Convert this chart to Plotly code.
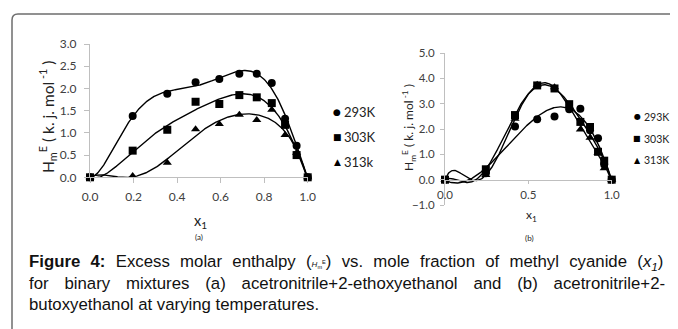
import numpy as np
import plotly.graph_objects as go

# ---------------- data ----------------
xa = [0.0, 0.196, 0.355, 0.485, 0.594, 0.686, 0.766, 0.835, 0.896, 0.949, 1.0]
a_293 = [0.0, 1.38, 1.88, 2.14, 2.21, 2.33, 2.33, 2.12, 1.32, 0.71, 0.0]
a_303 = [0.0, 0.60, 1.07, 1.70, 1.65, 1.85, 1.80, 1.67, 1.18, 0.50, 0.0]
a_313 = [0.0, 0.03, 0.33, 1.08, 1.20, 1.41, 1.29, 1.52, 0.95, 0.55, 0.0]
a_labels = ["293K", "303K", "313k"]
a_degrees = [6, 6, 6]

xb = [0.0, 0.245, 0.42, 0.553, 0.657, 0.745, 0.812, 0.87, 0.918, 0.955, 1.0]
b_293 = [0.0, 0.25, 2.10, 2.38, 2.49, 2.78, 2.80, 1.95, 1.63, 0.60, 0.0]
b_303 = [0.0, 0.41, 2.55, 3.72, 3.60, 2.98, 2.28, 2.08, 1.10, 0.75, 0.0]
b_313 = [0.0, 0.18, 2.40, 3.75, 3.65, 2.90, 1.98, 1.65, 1.05, 0.45, 0.0]
b_labels = ["293K", "303K", "313K"]
b_degrees = [4, 6, 6]

symbols = ["circle", "square", "triangle-up"]
legend_glyphs = ["\u25CF", "\u25A0", "\u25B2"]

# ---------------- layout helpers ----------------
# the page body has an 8px margin, so the figure is 16px smaller and offset
OFF = 8
W, H = 678 - OFF, 329 - OFF
def px(x):
    return (x - OFF) / W
def py(y):
    return 1 - (y - OFF) / H

fig = go.Figure()

def add_panel(xs, series, labels, degrees, xaxis, yaxis):
    xfine = np.linspace(0, 1, 300)
    for ys, deg in zip(series, degrees):
        coef = np.polyfit(xs, ys, deg)
        fig.add_trace(go.Scatter(x=xfine, y=np.polyval(coef, xfine), mode="lines",
                                 line=dict(color="black", width=1.4),
                                 xaxis=xaxis, yaxis=yaxis, showlegend=False,
                                 hoverinfo="skip"))
    for ys, lab, sym in zip(series, labels, symbols):
        fig.add_trace(go.Scatter(x=xs, y=ys, mode="markers", name=lab,
                                 marker=dict(symbol=sym, color="black", size=8),
                                 xaxis=xaxis, yaxis=yaxis, showlegend=False,
                                 cliponaxis=False))

add_panel(xa, [a_293, a_303, a_313], a_labels, a_degrees, "x", "y")
add_panel(xb, [b_293, b_303, b_313], b_labels, b_degrees, "x2", "y2")

FONT = "Lato, Carlito, sans-serif"
def axstyle(size, ticklen, standoff):
    return dict(showgrid=False, zeroline=False, showline=True, linecolor="#bfbfbf",
                linewidth=1, ticks="outside", ticklen=ticklen, tickcolor="#bfbfbf",
                tickfont=dict(family=FONT, size=size, color="#404040"),
                tickformat=".1f", automargin=False, ticklabelstandoff=standoff)

fig.update_layout(
    width=W, height=H,
    margin=dict(l=0, r=0, t=0, b=0, pad=0, autoexpand=False),
    paper_bgcolor="white", plot_bgcolor="white",
    showlegend=False,
    xaxis=dict(domain=[px(90), px(307.7)], range=[0, 1], dtick=0.2, tick0=0,
               anchor="y", **axstyle(12, 5, 3)),
    yaxis=dict(domain=[py(177.3), py(44)], range=[0, 3], dtick=0.5, tick0=0,
               anchor="x", **axstyle(12, 5, 5)),
    xaxis2=dict(domain=[px(445), px(611.7)], range=[0, 1], dtick=0.5, tick0=0,
                anchor="free", position=py(179.7), **axstyle(11.5, 3, 1)),
    yaxis2=dict(domain=[py(205), py(53)], range=[-1, 5], dtick=1, tick0=0,
                anchor="x2", **axstyle(11.5, 4, 3)),
)

ann = []
def text_at(x, y, text, font, **kw):
    d = dict(x=px(x), y=py(y), xref="paper", yref="paper", text=text,
             showarrow=False, font=font, xanchor="center", yanchor="middle")
    d.update(kw)
    ann.append(d)

ytitle = "H<sub>m</sub><sup>E</sup> ( k. j. mol<sup> -1</sup> )"
text_at(48, 117, ytitle, dict(family=FONT, size=15.5, color="#222"), textangle=-90)
text_at(409, 128, ytitle, dict(family=FONT, size=12, color="#222"), textangle=-90)
text_at(201, 221, "x<sub>1</sub>", dict(family=FONT, size=14.5, color="#222"))
text_at(531, 215, "x<sub>1</sub>", dict(family=FONT, size=12, color="#222"))
text_at(199, 237, "(a)", dict(family=FONT, size=8, color="#222"))
text_at(529, 238, "(b)", dict(family=FONT, size=8, color="#222"))

leg_a_y = [112, 137, 161.5]
leg_b_y = [117, 138.5, 160]
for lab, g, yy in zip(a_labels, legend_glyphs, leg_a_y):
    text_at(337, yy, g, dict(family="DejaVu Sans", size=9, color="black"))
    text_at(342, yy, lab, dict(family=FONT, size=13, color="#222"), xanchor="left")
for lab, g, yy in zip(b_labels, legend_glyphs, leg_b_y):
    text_at(637, yy, g, dict(family="DejaVu Sans", size=8, color="black"))
    text_at(642, yy, lab, dict(family=FONT, size=10.5, color="#222"), xanchor="left")

capfont = dict(family="Liberation Sans, Arial, sans-serif", size=16.8, color="#111")
g1 = " \u2004"
g2 = " \u2002\u2006"
line1 = g1.join(["<b>Figure", "4:</b>", "Excess", "molar", "enthalpy",
                 "(<span style='font-size:8px'><i>H</i><sub>m</sub><sup>E</sup></span>)",
                 "vs.", "mole", "fraction", "of", "methyl", "cyanide", "(<i>x<sub>1</sub></i>)"])
line2 = g2.join(["for", "binary", "mixtures", "(a)", "acetronitrile+2-ethoxyethanol",
                 "and", "(b)", "acetronitrile+2-"])
line3 = "butoxyethanol at varying temperatures."
for i, line in enumerate([line1, line2, line3]):
    text_at(27, 262 + 21 * i, line, capfont, xanchor="left", align="left")
fig.update_layout(annotations=ann)

r = 6
path = (f"M {px(12)},{py(340)} L {px(12)},{py(14 + r)} "
        f"Q {px(12)},{py(14)} {px(12 + r)},{py(14)} L {px(680)},{py(14)}")
fig.add_shape(type="path", path=path, xref="paper", yref="paper",
              line=dict(color="#6e6e6e", width=1.5))

fig.write_html("out.html")
